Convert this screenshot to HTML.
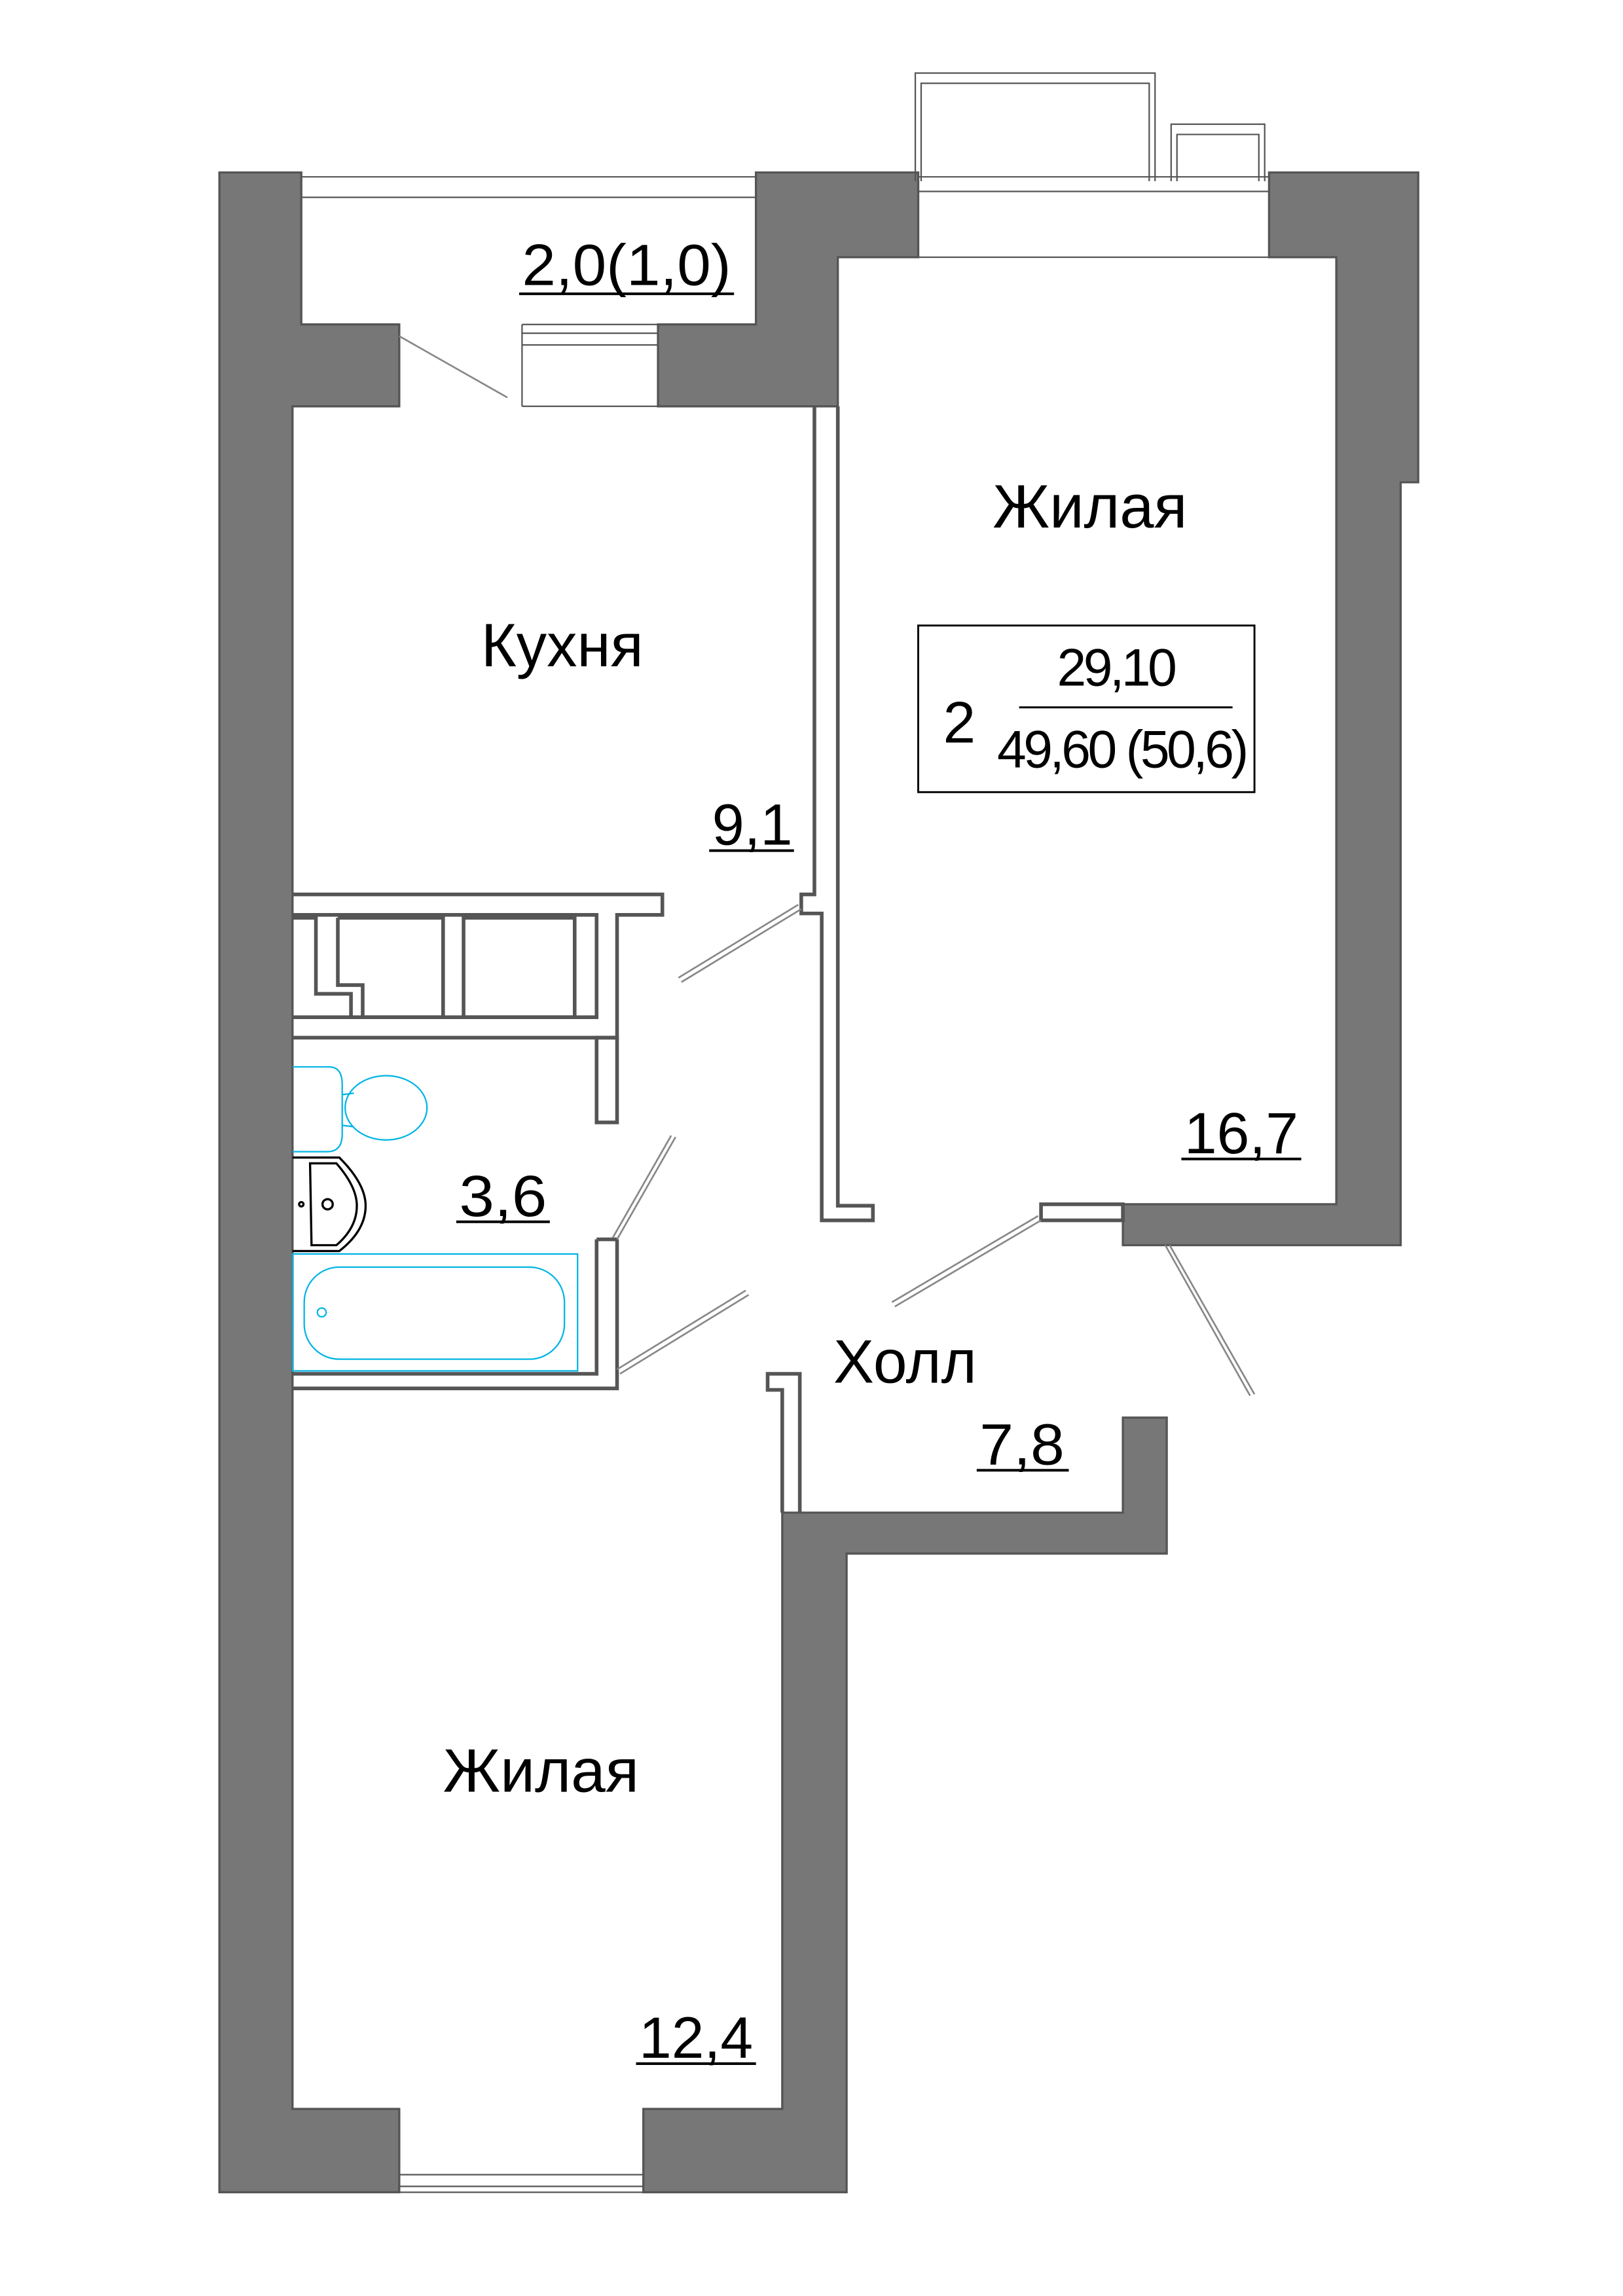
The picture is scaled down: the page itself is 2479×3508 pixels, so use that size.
<!DOCTYPE html>
<html><head><meta charset="utf-8"><style>
html,body{margin:0;padding:0;background:#fff}
svg{display:block}
.lbl{font-family:"Liberation Sans Narrow","Liberation Sans",sans-serif;fill:#000}
</style></head><body>
<svg width="2479" height="3508" viewBox="0 0 1110 1571" xmlns="http://www.w3.org/2000/svg">
<rect width="1110" height="1571" fill="#fff"/>
<g fill="#777" stroke="#555" stroke-width="1.5">
<polygon points="150,118 206,118 206,222 273,222 273,278 200,278 200,1443 273,1443 273,1500 150,1500"/>
<polygon points="440,1443 535,1443 535,1035 768,1035 768,970 798,970 798,1063 579,1063 579,1500 440,1500"/>
<polygon points="517,118 628,118 628,176 573,176 573,278 450,278 450,222 517,222"/>
<polygon points="868,118 970,118 970,330 958,330 958,852 768,852 768,824 914,824 914,176 868,176"/>
</g>
<g fill="none" stroke="#555" stroke-width="1">
<!-- windows -->
<line x1="206" y1="121" x2="517" y2="121"/><line x1="206" y1="135" x2="517" y2="135"/>
<line x1="628" y1="121" x2="868" y2="121"/><line x1="628" y1="131" x2="868" y2="131"/>
<line x1="628" y1="176" x2="868" y2="176"/>
<line x1="273" y1="1488" x2="440" y2="1488"/><line x1="273" y1="1496" x2="440" y2="1496"/><line x1="273" y1="1500" x2="440" y2="1500"/>
<line x1="357" y1="222" x2="450" y2="222"/><line x1="357" y1="228" x2="450" y2="228"/><line x1="357" y1="236" x2="450" y2="236"/><line x1="357" y1="278" x2="450" y2="278"/><line x1="357" y1="222" x2="357" y2="278"/>
<!-- balconies -->
<polyline points="626,124 626,50 790,50 790,124"/><polyline points="630,124 630,57 786,57 786,124"/>
<polyline points="801,124 801,85 865,85 865,124"/><polyline points="805,124 805,92 861,92 861,124"/>
</g>
<g fill="none" stroke="#555" stroke-width="2.5">
<!-- partitions -->
<polyline points="557,278 557,612 548,612 548,625 562,625 562,835 597,835 597,825 573,825 573,278"/>
<polyline points="200,612 453,612 453,626 422,626 422,710 200,710"/>
<polyline points="200,626 408,626 408,696 200,696"/>
<rect x="408" y="710" width="14" height="58"/>
<polyline points="422,848 422,950 200,950"/><polyline points="408,848 408,940 200,940"/><line x1="408" y1="848" x2="422" y2="848"/>
<rect x="317" y="628" width="76" height="68"/>
<polyline points="231,628 303,628 303,696 248,696 248,674 231,674 231,628"/>
<polyline points="200,628 216,628 216,680 240,680 240,696"/>
<polyline points="547,1035 547,940 525,940 525,951 535,951 535,1035"/>
<rect x="712" y="824" width="56" height="11" fill="#fff"/>
</g>
<!-- door swings -->
<g stroke="#888" stroke-width="1.2" fill="none">
<line x1="273" y1="230" x2="347" y2="272"/>
<line x1="548" y1="622" x2="466" y2="672"/><line x1="546" y1="619" x2="464" y2="669"/>
<line x1="462" y1="778" x2="422" y2="848"/><line x1="459" y1="777" x2="419" y2="847"/>
<line x1="512" y1="886" x2="424" y2="940"/><line x1="510" y1="883" x2="422" y2="937"/>
<line x1="712" y1="835" x2="612" y2="894"/><line x1="710" y1="832" x2="610" y2="891"/>
<line x1="797" y1="852" x2="855" y2="955"/><line x1="800" y1="852" x2="858" y2="954"/>
</g>
<!-- fixtures -->
<g stroke="#00b4e6" stroke-width="1" fill="none">
<path d="M200,730 H225 Q234,730 234,742 V776 Q234,788 224,788 H200"/>
<ellipse cx="264" cy="758" rx="28" ry="22"/>
<line x1="234" y1="749" x2="242" y2="748"/><line x1="234" y1="770" x2="242" y2="771"/>
<rect x="200" y="858" width="195" height="80"/>
<rect x="208" y="867" width="178" height="63" rx="24"/>
<circle cx="220" cy="898" r="3"/>
</g>
<g stroke="#000" stroke-width="1.5" fill="none">
<path d="M200,792 H232 Q250,810 250,825 Q250,842 232,856 H200"/>
<path d="M212,796 H230 Q244,812 244,825 Q244,840 230,852 H213 Z"/>
<circle cx="224" cy="824" r="3.5"/><circle cx="206" cy="824" r="1.5"/>
</g>
<!-- info box -->
<rect x="628" y="428" width="230" height="114" fill="none" stroke="#000" stroke-width="1.3"/>
<line x1="697" y1="484" x2="843" y2="484" stroke="#000" stroke-width="1.3"/>
<g font-family="Liberation Sans, sans-serif" fill="#000">
<text x="645" y="508" font-size="40">2</text>
<text x="763" y="469" font-size="36" text-anchor="middle" letter-spacing="-2">29,10</text>
<text x="767" y="525" font-size="36" text-anchor="middle" letter-spacing="-2">49,60 (50,6)</text>
</g>
<!-- labels -->
<g class="lbl" font-size="42">
<text x="679" y="361" textLength="133" lengthAdjust="spacingAndGlyphs">Жилая</text>
<text x="329" y="456" textLength="111" lengthAdjust="spacingAndGlyphs">Кухня</text>
<text x="570" y="946" textLength="98" lengthAdjust="spacingAndGlyphs">Холл</text>
<text x="303" y="1226" textLength="134" lengthAdjust="spacingAndGlyphs">Жилая</text>
</g>
<g class="lbl" font-size="40">
<text x="357" y="195" textLength="143" lengthAdjust="spacingAndGlyphs">2,0(1,0)</text>
<text x="487" y="578" textLength="55" lengthAdjust="spacingAndGlyphs">9,1</text>
<text x="810" y="789" textLength="78" lengthAdjust="spacingAndGlyphs">16,7</text>
<text x="314" y="832" textLength="60" lengthAdjust="spacingAndGlyphs">3,6</text>
<text x="670" y="1002" textLength="58" lengthAdjust="spacingAndGlyphs">7,8</text>
<text x="437" y="1408" textLength="78" lengthAdjust="spacingAndGlyphs">12,4</text>
</g>
<g stroke="#000" stroke-width="1.8">
<line x1="355" y1="201" x2="502" y2="201"/>
<line x1="485" y1="582" x2="543" y2="582"/>
<line x1="808" y1="793" x2="890" y2="793"/>
<line x1="312" y1="836" x2="376" y2="836"/>
<line x1="668" y1="1006" x2="731" y2="1006"/>
<line x1="435" y1="1412" x2="517" y2="1412"/>
</g>
</svg>
</body></html>
